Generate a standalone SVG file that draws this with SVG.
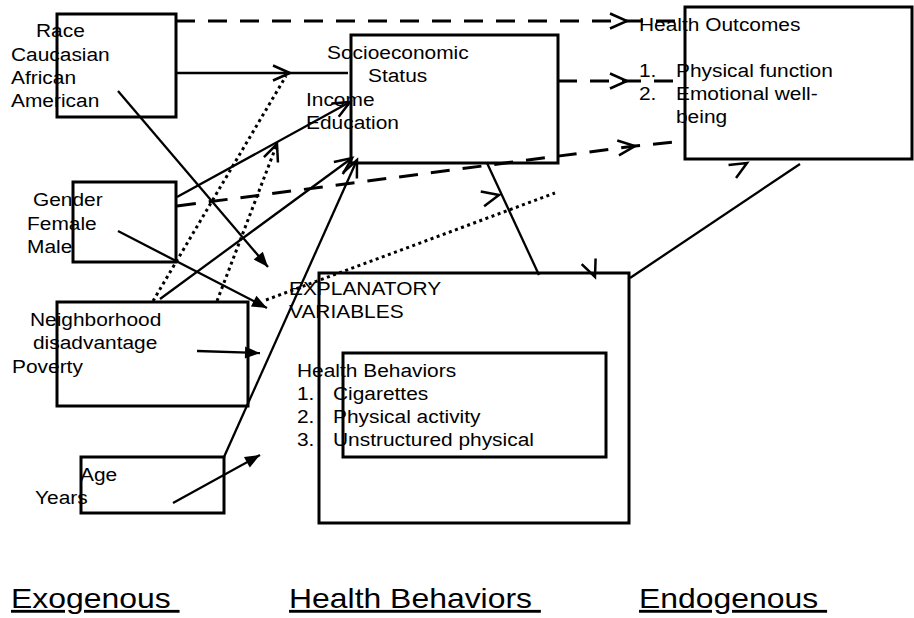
<svg xmlns="http://www.w3.org/2000/svg" width="914" height="618" viewBox="0 0 914 618">
<style>
  .box { fill: none; stroke: #000; stroke-width: 3; }
  .t { font-family: "Liberation Sans", Arial, sans-serif; font-size: 19px; fill: #000; }
  .h { font-family: "Liberation Sans", Arial, sans-serif; font-size: 28.5px; fill: #000; text-decoration: underline; white-space: pre; }
  .ln { fill: none; stroke: #000; stroke-width: 2.3; }
  .dash { fill: none; stroke: #000; stroke-width: 3; stroke-dasharray: 19 13; }
  .dot { fill: none; stroke: #000; stroke-width: 3; stroke-dasharray: 3 3.5; }
  .chev { fill: none; stroke: #000; stroke-width: 2.5; }
</style>
<defs>
  <!-- open chevron arrowhead -->
  <marker id="open" markerUnits="userSpaceOnUse" viewBox="-20 -10 22 20" refX="0" refY="0" markerWidth="22" markerHeight="20" orient="auto" overflow="visible">
    <path d="M-17,-7.5 L0,0 L-17,7.5" fill="none" stroke="#000" stroke-width="2.5"/>
  </marker>
  <!-- filled triangle arrowhead -->
  <marker id="solid" markerUnits="userSpaceOnUse" viewBox="-16 -8 18 16" refX="0" refY="0" markerWidth="18" markerHeight="16" orient="auto" overflow="visible">
    <path d="M-15,-6 L0,0 L-15,6 Z" fill="#000"/>
  </marker>
  <!-- loose chevron, placed on its own -->
  <path id="chevron" class="chev" d="M-17,-7.5 L0,0 L-17,7.5"/>
</defs>

<rect width="914" height="618" fill="#fff"/>

<g id="connectors">
  <polyline class="dash" points="176,21 627,21 685,21" marker-mid="url(#open)"/>
  <polyline class="ln" points="176,73 290,73 348,73" marker-mid="url(#open)"/>
  <polyline class="dash" points="558,81 627,81 685,81" marker-mid="url(#open)"/>
  <polyline class="dash" points="177,206 635,146 685,141" marker-mid="url(#open)"/>
  <line class="ln" x1="118" y1="91" x2="268" y2="267" marker-end="url(#solid)"/>
  <line class="ln" x1="118" y1="231" x2="267" y2="308" marker-end="url(#solid)"/>
  <line class="ln" x1="177" y1="197" x2="350" y2="102" marker-end="url(#open)"/>
  <line class="ln" x1="160" y1="299" x2="352" y2="158" marker-end="url(#open)"/>
  <line class="ln" x1="224" y1="457" x2="357" y2="160" marker-end="url(#open)"/>
  <line class="ln" x1="197" y1="351" x2="260" y2="353" marker-end="url(#solid)"/>
  <line class="ln" x1="173" y1="503" x2="260" y2="455" marker-end="url(#solid)"/>
  <line class="dot" x1="153" y1="301" x2="286" y2="76"/>
  <line class="dot" x1="217" y1="301" x2="277" y2="144" marker-end="url(#open)"/>
  <line class="dot" x1="266" y1="300" x2="555" y2="193"/>
  <line class="ln" x1="487" y1="163" x2="539" y2="275"/>
  <line class="ln" x1="800" y1="164" x2="630" y2="278"/>
  <use href="#chevron" transform="translate(499,195) rotate(-13)"/>
  <use href="#chevron" transform="translate(747,163) rotate(-30)"/>
  <use href="#chevron" transform="translate(595,277) rotate(68)"/>
</g>

<g id="race">
  <rect class="box" x="57" y="14" width="119" height="103"/>
  <text class="t" transform="matrix(1.1 0 0 1 36 37)">Race</text>
  <text class="t" transform="matrix(1.1 0 0 1 11 61)">Caucasian</text>
  <text class="t" transform="matrix(1.1 0 0 1 11 84)">African</text>
  <text class="t" transform="matrix(1.1 0 0 1 11 107)">American</text>
</g>

<g id="gender">
  <rect class="box" x="73" y="182" width="103" height="80"/>
  <text class="t" transform="matrix(1.1 0 0 1 33 206)">Gender</text>
  <text class="t" transform="matrix(1.1 0 0 1 27 230)">Female</text>
  <text class="t" transform="matrix(1.1 0 0 1 27 253)">Male</text>
</g>

<g id="neighborhood">
  <rect class="box" x="57" y="302" width="191" height="104"/>
  <text class="t" transform="matrix(1.1 0 0 1 30 326)">Neighborhood</text>
  <text class="t" transform="matrix(1.1 0 0 1 33 349)">disadvantage</text>
  <text class="t" transform="matrix(1.1 0 0 1 12 373)">Poverty</text>
</g>

<g id="age">
  <rect class="box" x="81" y="457" width="143" height="56"/>
  <text class="t" transform="matrix(1.1 0 0 1 80 481)">Age</text>
  <text class="t" transform="matrix(1.1 0 0 1 35 504)">Years</text>
</g>

<g id="ses">
  <rect class="box" x="351" y="35" width="207" height="128"/>
  <text class="t" transform="matrix(1.1 0 0 1 327 59)">Socioeconomic</text>
  <text class="t" transform="matrix(1.1 0 0 1 368 82)">Status</text>
  <text class="t" transform="matrix(1.1 0 0 1 306 106)">Income</text>
  <text class="t" transform="matrix(1.1 0 0 1 306 129)">Education</text>
</g>

<g id="outcomes">
  <rect class="box" x="685" y="7" width="227" height="152"/>
  <text class="t" transform="matrix(1.1 0 0 1 639 31)">Health Outcomes</text>
  <text class="t" transform="matrix(1.1 0 0 1 639 77)">1.</text>
  <text class="t" transform="matrix(1.1 0 0 1 676 77)">Physical function</text>
  <text class="t" transform="matrix(1.1 0 0 1 639 100)">2.</text>
  <text class="t" transform="matrix(1.1 0 0 1 676 100)">Emotional well-</text>
  <text class="t" transform="matrix(1.1 0 0 1 676 123)">being</text>
</g>

<g id="explanatory">
  <rect class="box" x="319" y="273" width="310" height="250"/>
  <text class="t" transform="matrix(1.1 0 0 1 289 295)">EXPLANATORY</text>
  <text class="t" transform="matrix(1.1 0 0 1 289 318)">VARIABLES</text>
</g>

<g id="health-behaviors">
  <rect class="box" x="343" y="353" width="263" height="104"/>
  <text class="t" transform="matrix(1.1 0 0 1 297 377)">Health Behaviors</text>
  <text class="t" transform="matrix(1.1 0 0 1 297 400)">1.</text>
  <text class="t" transform="matrix(1.1 0 0 1 333 400)">Cigarettes</text>
  <text class="t" transform="matrix(1.1 0 0 1 297 423)">2.</text>
  <text class="t" transform="matrix(1.1 0 0 1 333 423)">Physical activity</text>
  <text class="t" transform="matrix(1.1 0 0 1 297 446)">3.</text>
  <text class="t" transform="matrix(1.1 0 0 1 333 446)">Unstructured physical</text>
</g>

<g id="column-labels">
  <text class="h" xml:space="preserve" transform="matrix(1.12 0 0 1 11 608)">Exogenous </text>
  <text class="h" xml:space="preserve" transform="matrix(1.12 0 0 1 289 608)">Health Behaviors </text>
  <text class="h" xml:space="preserve" transform="matrix(1.12 0 0 1 639 608)">Endogenous </text>
</g>
</svg>
